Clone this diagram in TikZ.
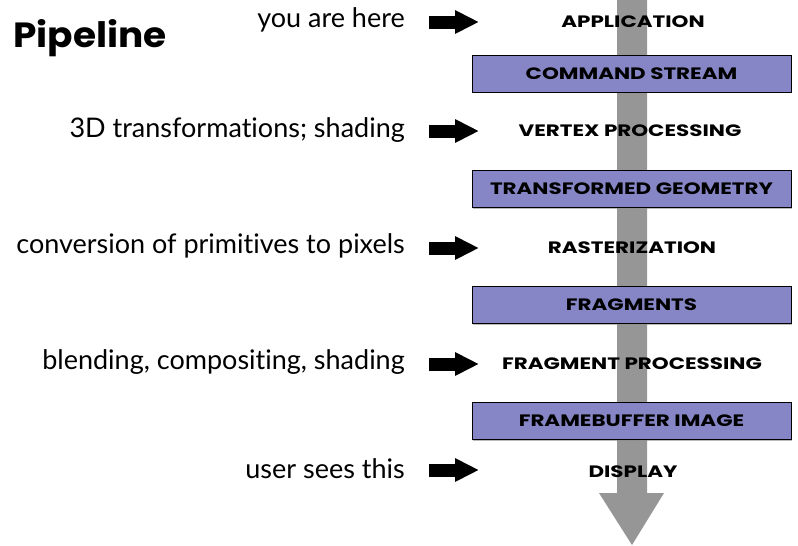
\documentclass[tikz,border=0pt]{standalone}
\usepackage{fontspec}
\setmainfont{Lato}[Ligatures={NoCommon}]
\newfontfamily\stagefont{Poppins}[FakeStretch=1.3]
\newfontfamily\titlefont{Poppins}[FakeStretch=1.07]
\usetikzlibrary{arrows.meta,shadows}
\definecolor{boxfill}{HTML}{8686C6}
\definecolor{shaft}{HTML}{969696}
\begin{document}
\begin{tikzpicture}[x=1pt,y=-1pt,
  lefttxt/.style={anchor=east,inner sep=0pt,font=\fontsize{27}{30}\selectfont},
  stage/.style={inner sep=0pt,font=\stagefont\bfseries\fontsize{16.5}{18}\selectfont},
  datbox/.style={draw=black,line width=0.8pt,fill=boxfill,minimum width=319pt,minimum height=37pt,inner sep=0pt,
    drop shadow={shadow xshift=1.2pt,shadow yshift=-1.2pt,fill=black!45,opacity=0.6},
    font=\stagefont\bfseries\fontsize{16.5}{18}\selectfont},
  blk/.style={line width=13pt,-{Triangle[length=24pt,width=22pt]}}]
\useasboundingbox (0,0) rectangle (798,546);
% big grey arrow
\fill[shaft] (617,0) -- (647,0) -- (647,493) -- (664,493) -- (632,545) -- (599,493) -- (617,493) -- cycle;
% data boxes
\node[datbox] (cs) at (631.5,73.5) {COMMAND STREAM};
\node[datbox] (tg) at (631.5,189) {TRANSFORMED GEOMETRY};
\node[datbox] (fr) at (631.5,305) {FRAGMENTS};
\node[datbox] (fb) at (631.5,421) {FRAMEBUFFER IMAGE};
% stages
\node[stage] (app) at (633,22) {APPLICATION};
\node[stage] (vp) at (630,131) {VERTEX PROCESSING};
\node[stage] (ras) at (632,248) {RASTERIZATION};
\node[stage] (fp) at (632,364) {FRAGMENT PROCESSING};
\node[stage] (dis) at (633,472) {DISPLAY};
% title
\node[anchor=west,inner sep=0pt,font=\titlefont\bfseries\fontsize{35}{38}\selectfont] (title) at (13,38) {Pipeline};
% left texts
\node[lefttxt] (t1) at (405,20) {you are here};
\node[lefttxt] (t2) at (405,130) {3D transformations; shading};
\node[lefttxt] (t3) at (405,246) {conversion of primitives to pixels};
\node[lefttxt] (t4) at (405,362) {blending, compositing, shading};
\node[lefttxt] (t5) at (405,469) {user sees this};
% arrows
\foreach \i/\y in {1/22,2/131,3/248,4/364,5/470}{
  \coordinate (s\i) at (429,\y);
  \coordinate (e\i) at (479,\y);
  \draw[blk] (s\i) -- (e\i);
}
\end{tikzpicture}
\end{document}
